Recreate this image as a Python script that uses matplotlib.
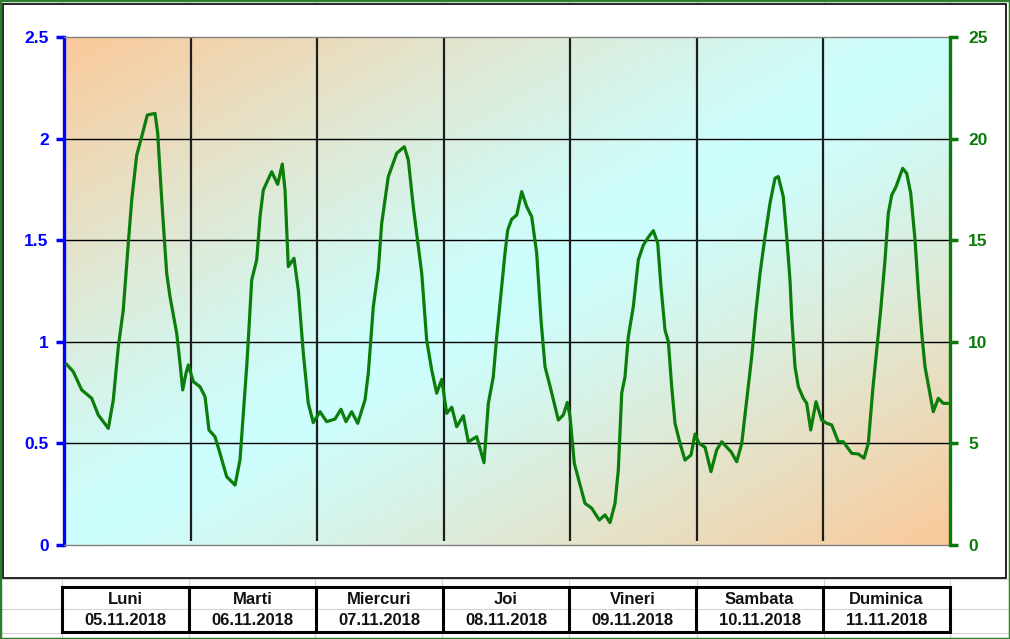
import matplotlib.pyplot as plt
import matplotlib.patches as patches
from matplotlib.lines import Line2D
import numpy as np

plt.rcParams['font.family'] = ['Liberation Sans', 'DejaVu Sans']

days = ['Luni', 'Marti', 'Miercuri', 'Joi', 'Vineri', 'Sambata', 'Duminica']
dates = ['05.11.2018', '06.11.2018', '07.11.2018', '08.11.2018',
         '09.11.2018', '10.11.2018', '11.11.2018']
left_ticks = [0, 0.5, 1, 1.5, 2, 2.5]
left_labels = ['0', '0.5', '1', '1.5', '2', '2.5']
right_ticks = [0, 5, 10, 15, 20, 25]
right_labels = ['0', '5', '10', '15', '20', '25']

# hours from start of Monday, values on the right (0-25) scale
hours = [0.51, 1.76, 3.36, 5.25, 6.50, 8.40, 9.35, 10.30, 11.24, 12.19, 12.84, 13.79,
         14.73, 15.80, 17.26, 17.77, 18.53, 19.47, 20.10, 21.37, 22.00, 22.51, 23.13,
         23.57, 24.52, 25.79, 26.74, 27.49, 28.63, 29.58, 30.85, 32.43, 33.37, 34.00,
         34.64, 34.95, 35.59, 36.54, 37.17, 37.79, 39.38, 40.52, 41.39, 41.91, 42.53,
         43.61, 44.43, 45.38, 46.32, 47.27, 48.54, 49.81, 51.39, 52.52, 53.47, 54.55,
         55.69, 57.08, 57.70, 58.65, 59.60, 60.24, 61.49, 63.09, 64.53, 65.29, 66.23,
         67.18, 67.83, 68.77, 69.72, 70.67, 71.62, 72.57, 73.52, 74.46, 75.72, 76.66,
         78.26, 79.64, 80.46, 81.40, 82.05, 82.67, 83.62, 84.13, 84.89, 85.84, 86.79,
         87.74, 88.68, 89.63, 90.45, 91.21, 92.34, 93.73, 94.68, 95.44, 95.95, 96.76,
         98.79, 100.06, 101.50, 102.58, 103.53, 104.48, 105.11, 105.75, 106.38, 107.00,
         107.95, 108.90, 109.85, 110.79, 111.74, 112.58, 113.20, 113.96, 114.59, 115.23,
         115.86, 116.81, 117.75, 118.89, 119.65, 120.41, 121.55, 122.68, 123.76, 124.71,
         126.48, 127.56, 128.51, 129.45, 130.40, 131.16, 131.98, 132.92, 133.87, 134.82,
         135.44, 136.39, 137.04, 137.66, 137.98, 138.61, 139.24, 140.19, 140.83, 141.59,
         142.59, 143.67, 144.62, 145.57, 146.82, 147.77, 149.36, 150.61, 151.70, 152.51,
         153.35, 154.22, 154.86, 155.68, 156.30, 156.95, 157.76, 159.03, 159.79, 160.55,
         161.37, 161.99, 162.64, 163.26, 164.08, 164.83, 165.78, 166.73, 167.68]
values = [8.89, 8.53, 7.63, 7.22, 6.40, 5.74, 7.14, 9.76, 11.57, 14.85, 16.98, 19.19,
          20.09, 21.16, 21.24, 20.26, 16.98, 13.37, 12.22, 10.42, 8.94, 7.63, 8.45,
          8.86, 8.04, 7.79, 7.30, 5.66, 5.33, 4.51, 3.36, 2.95, 4.18, 6.48,
          8.77, 10.09, 13.04, 14.03, 16.16, 17.47, 18.37, 17.75, 18.75, 17.47, 13.70,
          14.11, 12.55, 9.43, 6.97, 6.02, 6.56, 6.07, 6.20, 6.68, 6.07, 6.56,
          5.99, 7.14, 8.45, 11.73, 13.53, 15.83, 18.13, 19.28, 19.60, 18.95, 16.65,
          14.68, 13.37, 10.09, 8.61, 7.47, 8.15, 6.48, 6.78, 5.82, 6.36, 5.08,
          5.33, 4.05, 6.97, 8.28, 10.25, 11.89, 14.36, 15.50, 16.03, 16.24, 17.39,
          16.65, 16.16, 14.36, 11.07, 8.77, 7.63, 6.15, 6.40, 7.02, 6.31, 4.02,
          2.05, 1.81, 1.23, 1.48, 1.10, 2.05, 3.69, 7.47, 8.28, 10.25,
          11.73, 14.03, 14.76, 15.14, 15.47, 14.85, 12.71, 10.58, 10.01, 7.79,
          5.99, 5.00, 4.18, 4.43, 5.46, 5.00, 4.81, 3.61, 4.68, 5.08,
          4.59, 4.10, 5.00, 7.14, 9.27, 11.40, 13.37, 15.17, 16.82, 18.05,
          18.13, 17.14, 15.17, 13.04, 11.24, 8.77, 7.79, 7.22, 6.97, 5.66,
          7.05, 6.15, 5.99, 5.91, 5.08, 5.08, 4.51, 4.48, 4.27, 5.00,
          7.63, 9.93, 11.57, 14.03, 16.32, 17.22, 17.63, 18.54, 18.29, 17.31,
          15.01, 12.55, 10.42, 8.77, 7.63, 6.56, 7.22, 6.97, 6.97]

W, H = 1010, 639
fig = plt.figure(figsize=(W / 100, H / 100), dpi=100)
fig.patch.set_facecolor('white')

# worksheet grid behind the chart
for yy in [579, 609, 633]:
    fig.add_artist(Line2D([0, 1], [1 - yy / H] * 2, color='#d4d4d4', lw=0.8, zorder=-3))
for xx in [62, 189, 315, 442, 569, 697, 824, 950]:
    fig.add_artist(Line2D([xx / W] * 2, [0, 1], color='#d4d4d4', lw=0.8, zorder=-3))

# chart area
fig.add_artist(patches.Rectangle((3 / W, 1 - 578 / H), 1003 / W, 574 / H,
                                 transform=fig.transFigure, facecolor='white',
                                 edgecolor='black', lw=1.2, zorder=-2))

ax = fig.add_axes([64 / W, 1 - 545 / H, 886 / W, 508 / H])
ax.set_xlim(0, 168)
ax.set_ylim(0, 2.5)

# diagonal background gradient: orange corners top-left / bottom-right, cyan band between
X, Y = np.meshgrid(np.linspace(0, 1, 400), np.linspace(0, 1, 240))
s = np.abs(X + Y - 1) ** 1.2
orange = np.array([251, 201, 153]) / 255
cyan = np.array([204, 255, 255]) / 255
img = cyan + (orange - cyan) * s[..., None]
ax.imshow(img, extent=[0, 168, 0, 2.5], aspect='auto', origin='upper', zorder=0)

ax.hlines([0.5, 1, 1.5, 2], 0, 168, color='black', lw=1, zorder=1)
ax.vlines([24, 48, 72, 96, 120, 144], 0.02, 2.5, color='#1e1e1e', lw=1.6, zorder=1)

ax.set_xticks([])
ax.set_yticks(left_ticks)
ax.set_yticklabels(left_labels, fontweight='bold')
ax.tick_params(axis='y', colors='#0000ff', length=6, width=2.5, labelsize=12.5, pad=5)
ax.spines['left'].set_color('#0000ff')
ax.spines['left'].set_linewidth(2.4)
ax.spines['right'].set_visible(False)
for sp in ['top', 'bottom']:
    ax.spines[sp].set_color('#808080')
    ax.spines[sp].set_linewidth(1)

ax2 = ax.twinx()
ax2.set_ylim(0, 25)
ax2.plot(hours, values, color='#0b7d0b', lw=2.3, zorder=3)
ax2.set_yticks(right_ticks)
ax2.set_yticklabels(right_labels, fontweight='bold')
ax2.tick_params(axis='y', colors='#0b7a0b', length=6, width=2.5, labelsize=12.5, pad=7)
ax2.spines['right'].set_color('#0b7a0b')
ax2.spines['right'].set_linewidth(2.4)
for sp in ['top', 'bottom', 'left']:
    ax2.spines[sp].set_visible(False)

# day table under the chart
tab = fig.add_axes([62 / W, 1 - 632 / H, 888 / W, 45 / H])
tab.set_xlim(0, 7)
tab.set_ylim(0, 1)
tab.axis('off')
tab.add_patch(patches.Rectangle((0, 0), 7, 1, fill=False, edgecolor='black',
                                lw=2.2, clip_on=False))
tab.vlines(range(1, 7), 0, 1, color='black', lw=2.2)
for i in range(7):
    tab.text(i + 0.5, 0.73, days[i], ha='center', va='center',
             fontsize=12, fontweight='bold', color='#111111')
    tab.text(i + 0.5, 0.25, dates[i], ha='center', va='center',
             fontsize=12, fontweight='bold', color='#111111')

# outer green frame
fig.add_artist(patches.Rectangle((0, 0), 1, 1, transform=fig.transFigure, fill=False,
                                 edgecolor='#2e7d2e', lw=2.5, zorder=5))

fig.savefig('out.png', dpi=100)
